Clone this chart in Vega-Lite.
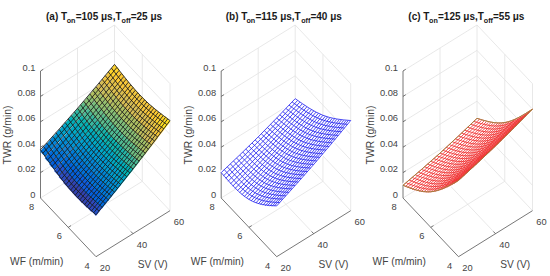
{"$schema":"https://vega.github.io/schema/vega-lite/v6.json","width":550,"height":276,"autosize":{"type":"fit","contains":"padding"},"padding":0,"background":"white","view":{"stroke":null},
"datasets":{
"box":[
{"s":20,"w":8,"z":0,"s2":60,"w2":8,"z2":0},{"s":60,"w":8,"z":0,"s2":60,"w2":4,"z2":0},
{"s":20,"w":8,"z":0.02,"s2":60,"w2":8,"z2":0.02},{"s":60,"w":8,"z":0.02,"s2":60,"w2":4,"z2":0.02},
{"s":20,"w":8,"z":0.04,"s2":60,"w2":8,"z2":0.04},{"s":60,"w":8,"z":0.04,"s2":60,"w2":4,"z2":0.04},
{"s":20,"w":8,"z":0.06,"s2":60,"w2":8,"z2":0.06},{"s":60,"w":8,"z":0.06,"s2":60,"w2":4,"z2":0.06},
{"s":20,"w":8,"z":0.08,"s2":60,"w2":8,"z2":0.08},{"s":60,"w":8,"z":0.08,"s2":60,"w2":4,"z2":0.08},
{"s":20,"w":8,"z":0.1,"s2":60,"w2":8,"z2":0.1},{"s":60,"w":8,"z":0.1,"s2":60,"w2":4,"z2":0.1},
{"s":40,"w":8,"z":0,"s2":40,"w2":8,"z2":0.1},{"s":60,"w":8,"z":0,"s2":60,"w2":8,"z2":0.1},
{"s":60,"w":6,"z":0,"s2":60,"w2":6,"z2":0.1},{"s":60,"w":4,"z":0,"s2":60,"w2":4,"z2":0.1},
{"s":40,"w":4,"z":0,"s2":40,"w2":8,"z2":0},{"s":20,"w":6,"z":0,"s2":60,"w2":6,"z2":0}],
"axes":[
{"s":20,"w":8,"z":0,"s2":20,"w2":8,"z2":0.1},{"s":20,"w":4,"z":0,"s2":20,"w2":8,"z2":0},{"s":20,"w":4,"z":0,"s2":60,"w2":4,"z2":0},
{"s":20,"w":8,"z":0.02,"s2":21.5,"w2":8,"z2":0.02},{"s":20,"w":8,"z":0.04,"s2":21.5,"w2":8,"z2":0.04},{"s":20,"w":8,"z":0.06,"s2":21.5,"w2":8,"z2":0.06},{"s":20,"w":8,"z":0.08,"s2":21.5,"w2":8,"z2":0.08},{"s":20,"w":8,"z":0.1,"s2":21.5,"w2":8,"z2":0.1},
{"s":20,"w":6,"z":0,"s2":21.5,"w2":6,"z2":0},{"s":40,"w":4,"z":0,"s2":40,"w2":4.15,"z2":0}],
"ticks":[
{"k":"z","t":"0","s":20,"w":8,"z":0},{"k":"z","t":"0.02","s":20,"w":8,"z":0.02},{"k":"z","t":"0.04","s":20,"w":8,"z":0.04},{"k":"z","t":"0.06","s":20,"w":8,"z":0.06},{"k":"z","t":"0.08","s":20,"w":8,"z":0.08},{"k":"z","t":"0.1","s":20,"w":8,"z":0.1},
{"k":"w","t":"4","s":20,"w":4,"z":0},{"k":"w","t":"6","s":20,"w":6,"z":0},{"k":"w","t":"8","s":20,"w":8,"z":0},
{"k":"s","t":"20","s":20,"w":4,"z":0},{"k":"s","t":"40","s":40,"w":4,"z":0},{"k":"s","t":"60","s":60,"w":4,"z":0}],
"titles":[
{"p":"a","n":0,"t":"(a) T"},{"p":"a","n":1,"t":"on"},{"p":"a","n":2,"t":"=105 μs,T"},{"p":"a","n":3,"t":"off"},{"p":"a","n":4,"t":"=25 μs"},
{"p":"b","n":0,"t":"(b) T"},{"p":"b","n":1,"t":"on"},{"p":"b","n":2,"t":"=115 μs,T"},{"p":"b","n":3,"t":"off"},{"p":"b","n":4,"t":"=40 μs"},
{"p":"c","n":0,"t":"(c) T"},{"p":"c","n":1,"t":"on"},{"p":"c","n":2,"t":"=125 μs,T"},{"p":"c","n":3,"t":"off"},{"p":"c","n":4,"t":"=55 μs"}],
"tiles":[
{"w":4.17,"s":21.67,"z":0.034},{"w":4.17,"s":25,"z":0.0369},{"w":4.17,"s":28.33,"z":0.0398},{"w":4.17,"s":31.67,"z":0.0428},{"w":4.17,"s":35,"z":0.0458},{"w":4.17,"s":38.33,"z":0.0489},{"w":4.17,"s":41.67,"z":0.052},{"w":4.17,"s":45,"z":0.0553},{"w":4.17,"s":48.33,"z":0.0585},{"w":4.17,"s":51.67,"z":0.0617},{"w":4.17,"s":55,"z":0.0652},{"w":4.17,"s":58.33,"z":0.0685},
{"w":4.5,"s":21.67,"z":0.0332},{"w":4.5,"s":25,"z":0.0361},{"w":4.5,"s":28.33,"z":0.0389},{"w":4.5,"s":31.67,"z":0.0419},{"w":4.5,"s":35,"z":0.0449},{"w":4.5,"s":38.33,"z":0.0479},{"w":4.5,"s":41.67,"z":0.051},{"w":4.5,"s":45,"z":0.0542},{"w":4.5,"s":48.33,"z":0.0574},{"w":4.5,"s":51.67,"z":0.0606},{"w":4.5,"s":55,"z":0.064},{"w":4.5,"s":58.33,"z":0.0673},
{"w":4.83,"s":21.67,"z":0.0327},{"w":4.83,"s":25,"z":0.0356},{"w":4.83,"s":28.33,"z":0.0383},{"w":4.83,"s":31.67,"z":0.0413},{"w":4.83,"s":35,"z":0.0442},{"w":4.83,"s":38.33,"z":0.0472},{"w":4.83,"s":41.67,"z":0.0502},{"w":4.83,"s":45,"z":0.0534},{"w":4.83,"s":48.33,"z":0.0565},{"w":4.83,"s":51.67,"z":0.0597},{"w":4.83,"s":55,"z":0.063},{"w":4.83,"s":58.33,"z":0.0663},
{"w":5.17,"s":21.67,"z":0.0325},{"w":5.17,"s":25,"z":0.0353},{"w":5.17,"s":28.33,"z":0.038},{"w":5.17,"s":31.67,"z":0.0409},{"w":5.17,"s":35,"z":0.0438},{"w":5.17,"s":38.33,"z":0.0467},{"w":5.17,"s":41.67,"z":0.0496},{"w":5.17,"s":45,"z":0.0527},{"w":5.17,"s":48.33,"z":0.0558},{"w":5.17,"s":51.67,"z":0.0589},{"w":5.17,"s":55,"z":0.0622},{"w":5.17,"s":58.33,"z":0.0654},
{"w":5.5,"s":21.67,"z":0.0324},{"w":5.5,"s":25,"z":0.0351},{"w":5.5,"s":28.33,"z":0.0378},{"w":5.5,"s":31.67,"z":0.0406},{"w":5.5,"s":35,"z":0.0434},{"w":5.5,"s":38.33,"z":0.0463},{"w":5.5,"s":41.67,"z":0.0492},{"w":5.5,"s":45,"z":0.0523},{"w":5.5,"s":48.33,"z":0.0553},{"w":5.5,"s":51.67,"z":0.0583},{"w":5.5,"s":55,"z":0.0616},{"w":5.5,"s":58.33,"z":0.0647},
{"w":5.83,"s":21.67,"z":0.0326},{"w":5.83,"s":25,"z":0.0353},{"w":5.83,"s":28.33,"z":0.0379},{"w":5.83,"s":31.67,"z":0.0407},{"w":5.83,"s":35,"z":0.0435},{"w":5.83,"s":38.33,"z":0.0462},{"w":5.83,"s":41.67,"z":0.0492},{"w":5.83,"s":45,"z":0.0522},{"w":5.83,"s":48.33,"z":0.0552},{"w":5.83,"s":51.67,"z":0.0582},{"w":5.83,"s":55,"z":0.0614},{"w":5.83,"s":58.33,"z":0.0645},
{"w":6.17,"s":21.67,"z":0.0329},{"w":6.17,"s":25,"z":0.0356},{"w":6.17,"s":28.33,"z":0.0381},{"w":6.17,"s":31.67,"z":0.0409},{"w":6.17,"s":35,"z":0.0436},{"w":6.17,"s":38.33,"z":0.0464},{"w":6.17,"s":41.67,"z":0.0492},{"w":6.17,"s":45,"z":0.0522},{"w":6.17,"s":48.33,"z":0.0551},{"w":6.17,"s":51.67,"z":0.0581},{"w":6.17,"s":55,"z":0.0612},{"w":6.17,"s":58.33,"z":0.0643},
{"w":6.5,"s":21.67,"z":0.0335},{"w":6.5,"s":25,"z":0.0361},{"w":6.5,"s":28.33,"z":0.0386},{"w":6.5,"s":31.67,"z":0.0413},{"w":6.5,"s":35,"z":0.044},{"w":6.5,"s":38.33,"z":0.0467},{"w":6.5,"s":41.67,"z":0.0496},{"w":6.5,"s":45,"z":0.0525},{"w":6.5,"s":48.33,"z":0.0554},{"w":6.5,"s":51.67,"z":0.0583},{"w":6.5,"s":55,"z":0.0614},{"w":6.5,"s":58.33,"z":0.0644},
{"w":6.83,"s":21.67,"z":0.0344},{"w":6.83,"s":25,"z":0.0369},{"w":6.83,"s":28.33,"z":0.0394},{"w":6.83,"s":31.67,"z":0.0421},{"w":6.83,"s":35,"z":0.0447},{"w":6.83,"s":38.33,"z":0.0474},{"w":6.83,"s":41.67,"z":0.0501},{"w":6.83,"s":45,"z":0.053},{"w":6.83,"s":48.33,"z":0.0558},{"w":6.83,"s":51.67,"z":0.0587},{"w":6.83,"s":55,"z":0.0618},{"w":6.83,"s":58.33,"z":0.0647},
{"w":7.17,"s":21.67,"z":0.0356},{"w":7.17,"s":25,"z":0.0381},{"w":7.17,"s":28.33,"z":0.0404},{"w":7.17,"s":31.67,"z":0.0431},{"w":7.17,"s":35,"z":0.0457},{"w":7.17,"s":38.33,"z":0.0482},{"w":7.17,"s":41.67,"z":0.051},{"w":7.17,"s":45,"z":0.0538},{"w":7.17,"s":48.33,"z":0.0566},{"w":7.17,"s":51.67,"z":0.0594},{"w":7.17,"s":55,"z":0.0624},{"w":7.17,"s":58.33,"z":0.0652},
{"w":7.5,"s":21.67,"z":0.0367},{"w":7.5,"s":25,"z":0.0392},{"w":7.5,"s":28.33,"z":0.0415},{"w":7.5,"s":31.67,"z":0.0441},{"w":7.5,"s":35,"z":0.0467},{"w":7.5,"s":38.33,"z":0.0492},{"w":7.5,"s":41.67,"z":0.0519},{"w":7.5,"s":45,"z":0.0546},{"w":7.5,"s":48.33,"z":0.0574},{"w":7.5,"s":51.67,"z":0.0602},{"w":7.5,"s":55,"z":0.0631},{"w":7.5,"s":58.33,"z":0.066},
{"w":7.83,"s":21.67,"z":0.0383},{"w":7.83,"s":25,"z":0.0407},{"w":7.83,"s":28.33,"z":0.043},{"w":7.83,"s":31.67,"z":0.0455},{"w":7.83,"s":35,"z":0.048},{"w":7.83,"s":38.33,"z":0.0505},{"w":7.83,"s":41.67,"z":0.0532},{"w":7.83,"s":45,"z":0.0559},{"w":7.83,"s":48.33,"z":0.0586},{"w":7.83,"s":51.67,"z":0.0613},{"w":7.83,"s":55,"z":0.0642},{"w":7.83,"s":58.33,"z":0.067}],
"alongSV":[
{"p":"a","w":4,"20":0.033,"40":0.051,"60":0.071},{"p":"a","w":4.17,"20":0.0326,"40":0.0505,"60":0.0703},{"p":"a","w":4.33,"20":0.0322,"40":0.0499,"60":0.0696},{"p":"a","w":4.5,"20":0.0318,"40":0.0494,"60":0.069},{"p":"a","w":4.67,"20":0.0316,"40":0.049,"60":0.0685},{"p":"a","w":4.83,"20":0.0314,"40":0.0487,"60":0.068},{"p":"a","w":5,"20":0.0313,"40":0.0484,"60":0.0675},{"p":"a","w":5.17,"20":0.0312,"40":0.0481,"60":0.0671},{"p":"a","w":5.33,"20":0.0311,"40":0.0479,"60":0.0667},{"p":"a","w":5.5,"20":0.0311,"40":0.0478,"60":0.0664},{"p":"a","w":5.67,"20":0.0312,"40":0.0477,"60":0.0663},{"p":"a","w":5.83,"20":0.0313,"40":0.0477,"60":0.0661},{"p":"a","w":6,"20":0.0315,"40":0.0478,"60":0.066},{"p":"a","w":6.17,"20":0.0317,"40":0.0478,"60":0.0659},{"p":"a","w":6.33,"20":0.032,"40":0.0479,"60":0.0659},{"p":"a","w":6.5,"20":0.0323,"40":0.0481,"60":0.066},{"p":"a","w":6.67,"20":0.0327,"40":0.0484,"60":0.0661},{"p":"a","w":6.83,"20":0.0332,"40":0.0487,"60":0.0663},{"p":"a","w":7,"20":0.0338,"40":0.0491,"60":0.0665},{"p":"a","w":7.17,"20":0.0344,"40":0.0496,"60":0.0668},{"p":"a","w":7.33,"20":0.035,"40":0.0501,"60":0.0672},{"p":"a","w":7.5,"20":0.0356,"40":0.0507,"60":0.0675},{"p":"a","w":7.67,"20":0.0364,"40":0.0514,"60":0.068},{"p":"a","w":7.83,"20":0.0372,"40":0.0518,"60":0.0685},{"p":"a","w":8,"20":0.038,"40":0.0525,"60":0.069},
{"p":"b","w":4,"20":0.04,"40":0.0545,"60":0.071},{"p":"b","w":4.17,"20":0.0379,"40":0.0525,"60":0.0691},{"p":"b","w":4.33,"20":0.0359,"40":0.0506,"60":0.0672},{"p":"b","w":4.5,"20":0.034,"40":0.0487,"60":0.0654},{"p":"b","w":4.67,"20":0.0323,"40":0.0469,"60":0.0637},{"p":"b","w":4.83,"20":0.0305,"40":0.0453,"60":0.062},{"p":"b","w":5,"20":0.029,"40":0.0437,"60":0.0604},{"p":"b","w":5.17,"20":0.0276,"40":0.0422,"60":0.0588},{"p":"b","w":5.33,"20":0.0262,"40":0.0407,"60":0.0573},{"p":"b","w":5.5,"20":0.025,"40":0.0394,"60":0.0559},{"p":"b","w":5.67,"20":0.0239,"40":0.0382,"60":0.0545},{"p":"b","w":5.83,"20":0.0229,"40":0.0371,"60":0.0532},{"p":"b","w":6,"20":0.022,"40":0.036,"60":0.052},{"p":"b","w":6.17,"20":0.0213,"40":0.035,"60":0.0508},{"p":"b","w":6.33,"20":0.0205,"40":0.0341,"60":0.0497},{"p":"b","w":6.5,"20":0.02,"40":0.0333,"60":0.0487},{"p":"b","w":6.67,"20":0.0196,"40":0.0326,"60":0.0477},{"p":"b","w":6.83,"20":0.0192,"40":0.0319,"60":0.0468},{"p":"b","w":7,"20":0.019,"40":0.0314,"60":0.0459},{"p":"b","w":7.17,"20":0.0189,"40":0.031,"60":0.045},{"p":"b","w":7.33,"20":0.0189,"40":0.0306,"60":0.0443},{"p":"b","w":7.5,"20":0.019,"40":0.0304,"60":0.0436},{"p":"b","w":7.67,"20":0.0193,"40":0.0301,"60":0.043},{"p":"b","w":7.83,"20":0.0195,"40":0.03,"60":0.0425},{"p":"b","w":8,"20":0.02,"40":0.03,"60":0.042},
{"p":"c","w":4,"20":0.06,"40":0.069,"60":0.08},{"p":"c","w":4.17,"20":0.0568,"40":0.0657,"60":0.0767},{"p":"c","w":4.33,"20":0.0537,"40":0.0626,"60":0.0734},{"p":"c","w":4.5,"20":0.0507,"40":0.0594,"60":0.0702},{"p":"c","w":4.67,"20":0.0478,"40":0.0565,"60":0.0672},{"p":"c","w":4.83,"20":0.045,"40":0.0536,"60":0.0643},{"p":"c","w":5,"20":0.0422,"40":0.0508,"60":0.0613},{"p":"c","w":5.17,"20":0.0396,"40":0.0481,"60":0.0586},{"p":"c","w":5.33,"20":0.0371,"40":0.0455,"60":0.056},{"p":"c","w":5.5,"20":0.0347,"40":0.043,"60":0.0533},{"p":"c","w":5.67,"20":0.0324,"40":0.0406,"60":0.0509},{"p":"c","w":5.83,"20":0.0301,"40":0.0383,"60":0.0485},{"p":"c","w":6,"20":0.028,"40":0.0361,"60":0.0463},{"p":"c","w":6.17,"20":0.0259,"40":0.0339,"60":0.044},{"p":"c","w":6.33,"20":0.024,"40":0.032,"60":0.042},{"p":"c","w":6.5,"20":0.0222,"40":0.03,"60":0.04},{"p":"c","w":6.67,"20":0.0205,"40":0.0283,"60":0.0381},{"p":"c","w":6.83,"20":0.0188,"40":0.0265,"60":0.0363},{"p":"c","w":7,"20":0.0172,"40":0.0249,"60":0.0346},{"p":"c","w":7.17,"20":0.0158,"40":0.0234,"60":0.033},{"p":"c","w":7.33,"20":0.0144,"40":0.0219,"60":0.0315},{"p":"c","w":7.5,"20":0.0132,"40":0.0206,"60":0.0301},{"p":"c","w":7.67,"20":0.0121,"40":0.0194,"60":0.0288},{"p":"c","w":7.83,"20":0.011,"40":0.0183,"60":0.0276},{"p":"c","w":8,"20":0.01,"40":0.0172,"60":0.0265}],
"alongWF":[
{"p":"a","s":20,"4":0.033,"6":0.0315,"8":0.038},{"p":"a","s":21.67,"4":0.0344,"6":0.0328,"8":0.0391},{"p":"a","s":23.33,"4":0.0359,"6":0.0341,"8":0.0403},{"p":"a","s":25,"4":0.0373,"6":0.0354,"8":0.0415},{"p":"a","s":26.67,"4":0.0388,"6":0.0367,"8":0.0426},{"p":"a","s":28.33,"4":0.0403,"6":0.038,"8":0.0439},{"p":"a","s":30,"4":0.0418,"6":0.0394,"8":0.0451},{"p":"a","s":31.67,"4":0.0433,"6":0.0407,"8":0.0462},{"p":"a","s":33.33,"4":0.0448,"6":0.0421,"8":0.0474},{"p":"a","s":35,"4":0.0463,"6":0.0435,"8":0.0487},{"p":"a","s":36.67,"4":0.0479,"6":0.0449,"8":0.0499},{"p":"a","s":38.33,"4":0.0494,"6":0.0463,"8":0.0512},{"p":"a","s":40,"4":0.051,"6":0.0478,"8":0.0525},{"p":"a","s":41.67,"4":0.0526,"6":0.0492,"8":0.0538},{"p":"a","s":43.33,"4":0.0542,"6":0.0506,"8":0.0551},{"p":"a","s":45,"4":0.0558,"6":0.0521,"8":0.0564},{"p":"a","s":46.67,"4":0.0574,"6":0.0536,"8":0.0578},{"p":"a","s":48.33,"4":0.0591,"6":0.0551,"8":0.0591},{"p":"a","s":50,"4":0.0608,"6":0.0566,"8":0.0605},{"p":"a","s":51.67,"4":0.0624,"6":0.0581,"8":0.0619},{"p":"a","s":53.33,"4":0.0641,"6":0.0597,"8":0.0633},{"p":"a","s":55,"4":0.0658,"6":0.0612,"8":0.0647},{"p":"a","s":56.67,"4":0.0675,"6":0.0628,"8":0.0661},{"p":"a","s":58.33,"4":0.0693,"6":0.0644,"8":0.0676},{"p":"a","s":60,"4":0.071,"6":0.066,"8":0.069},
{"p":"b","s":20,"4":0.04,"6":0.022,"8":0.02},{"p":"b","s":21.67,"4":0.0411,"6":0.0231,"8":0.0208},{"p":"b","s":23.33,"4":0.0423,"6":0.0242,"8":0.0215},{"p":"b","s":25,"4":0.0434,"6":0.0253,"8":0.0223},{"p":"b","s":26.67,"4":0.0446,"6":0.0264,"8":0.0231},{"p":"b","s":28.33,"4":0.0458,"6":0.0276,"8":0.0239},{"p":"b","s":30,"4":0.047,"6":0.0288,"8":0.0248},{"p":"b","s":31.67,"4":0.0482,"6":0.0299,"8":0.0256},{"p":"b","s":33.33,"4":0.0494,"6":0.0311,"8":0.0264},{"p":"b","s":35,"4":0.0507,"6":0.0324,"8":0.0273},{"p":"b","s":36.67,"4":0.0519,"6":0.0336,"8":0.0282},{"p":"b","s":38.33,"4":0.0532,"6":0.0348,"8":0.0291},{"p":"b","s":40,"4":0.0545,"6":0.036,"8":0.03},{"p":"b","s":41.67,"4":0.0558,"6":0.0373,"8":0.0309},{"p":"b","s":43.33,"4":0.0571,"6":0.0385,"8":0.0318},{"p":"b","s":45,"4":0.0584,"6":0.0398,"8":0.0328},{"p":"b","s":46.67,"4":0.0598,"6":0.0411,"8":0.0338},{"p":"b","s":48.33,"4":0.0611,"6":0.0424,"8":0.0347},{"p":"b","s":50,"4":0.0625,"6":0.0438,"8":0.0358},{"p":"b","s":51.67,"4":0.0639,"6":0.0451,"8":0.0368},{"p":"b","s":53.33,"4":0.0653,"6":0.0464,"8":0.0378},{"p":"b","s":55,"4":0.0667,"6":0.0478,"8":0.0388},{"p":"b","s":56.67,"4":0.0681,"6":0.0492,"8":0.0399},{"p":"b","s":58.33,"4":0.0695,"6":0.0506,"8":0.0409},{"p":"b","s":60,"4":0.071,"6":0.052,"8":0.042},
{"p":"c","s":20,"4":0.06,"6":0.028,"8":0.01},{"p":"c","s":21.67,"4":0.0607,"6":0.0286,"8":0.0105},{"p":"c","s":23.33,"4":0.0614,"6":0.0292,"8":0.0111},{"p":"c","s":25,"4":0.0621,"6":0.0298,"8":0.0116},{"p":"c","s":26.67,"4":0.0628,"6":0.0305,"8":0.0122},{"p":"c","s":28.33,"4":0.0635,"6":0.0312,"8":0.0128},{"p":"c","s":30,"4":0.0643,"6":0.0318,"8":0.0134},{"p":"c","s":31.67,"4":0.065,"6":0.0325,"8":0.014},{"p":"c","s":33.33,"4":0.0658,"6":0.0332,"8":0.0146},{"p":"c","s":35,"4":0.0666,"6":0.0339,"8":0.0153},{"p":"c","s":36.67,"4":0.0674,"6":0.0347,"8":0.0159},{"p":"c","s":38.33,"4":0.0682,"6":0.0354,"8":0.0166},{"p":"c","s":40,"4":0.069,"6":0.0362,"8":0.0172},{"p":"c","s":41.67,"4":0.0698,"6":0.0369,"8":0.0179},{"p":"c","s":43.33,"4":0.0707,"6":0.0377,"8":0.0187},{"p":"c","s":45,"4":0.0716,"6":0.0385,"8":0.0194},{"p":"c","s":46.67,"4":0.0724,"6":0.0393,"8":0.0201},{"p":"c","s":48.33,"4":0.0733,"6":0.0401,"8":0.0209},{"p":"c","s":50,"4":0.0743,"6":0.041,"8":0.0216},{"p":"c","s":51.67,"4":0.0752,"6":0.0418,"8":0.0224},{"p":"c","s":53.33,"4":0.0761,"6":0.0427,"8":0.0232},{"p":"c","s":55,"4":0.0771,"6":0.0436,"8":0.024},{"p":"c","s":56.67,"4":0.078,"6":0.0445,"8":0.0248},{"p":"c","s":58.33,"4":0.079,"6":0.0454,"8":0.0256},{"p":"c","s":60,"4":0.08,"6":0.0463,"8":0.0265}]
},
"layer":[
{"data":{"name":"box"},"transform":[{"calculate":"['a','b','c']","as":"p"},{"flatten":["p"]},
{"calculate":"96+{a:0,b:180.7,c:362.5}[datum.p]+(datum.s-20)*1.85-(datum.w-4)*13.875","as":"px"},{"calculate":"256.7-(datum.s-20)*1.15-(datum.w-4)*14.675-datum.z*1270","as":"py"},
{"calculate":"96+{a:0,b:180.7,c:362.5}[datum.p]+(datum.s2-20)*1.85-(datum.w2-4)*13.875","as":"px2"},{"calculate":"256.7-(datum.s2-20)*1.15-(datum.w2-4)*14.675-datum.z2*1270","as":"py2"}],
"mark":{"type":"rule","stroke":"#e2e2e2","strokeWidth":0.8},
"encoding":{"x":{"field":"px","type":"quantitative","scale":{"domain":[0,550],"nice":false,"zero":false},"axis":null},"y":{"field":"py","type":"quantitative","scale":{"domain":[0,276],"range":[0,276],"nice":false,"zero":false},"axis":null},"x2":{"field":"px2"},"y2":{"field":"py2"}}},
{"data":{"name":"axes"},"transform":[{"calculate":"['a','b','c']","as":"p"},{"flatten":["p"]},
{"calculate":"96+{a:0,b:180.7,c:362.5}[datum.p]+(datum.s-20)*1.85-(datum.w-4)*13.875","as":"px"},{"calculate":"256.7-(datum.s-20)*1.15-(datum.w-4)*14.675-datum.z*1270","as":"py"},
{"calculate":"96+{a:0,b:180.7,c:362.5}[datum.p]+(datum.s2-20)*1.85-(datum.w2-4)*13.875","as":"px2"},{"calculate":"256.7-(datum.s2-20)*1.15-(datum.w2-4)*14.675-datum.z2*1270","as":"py2"}],
"mark":{"type":"rule","stroke":"#555555","strokeWidth":0.8},
"encoding":{"x":{"field":"px","type":"quantitative","axis":null},"y":{"field":"py","type":"quantitative","axis":null},"x2":{"field":"px2"},"y2":{"field":"py2"}}},
{"data":{"name":"tiles"},"transform":[{"calculate":"'a'","as":"p"},
{"calculate":"96+(datum.s-20)*1.85-(datum.w-4)*13.875","as":"px"},{"calculate":"256.7-(datum.s-20)*1.15-(datum.w-4)*14.675-datum.z*1270","as":"py"}],
"mark":{"type":"point","filled":true,"opacity":1,"strokeWidth":0,"size":4,"shape":"M0.8,-6.8L5.8,-1.5L-0.8,6.8L-5.8,1.5Z"},
"encoding":{"x":{"field":"px","type":"quantitative","axis":null},"y":{"field":"py","type":"quantitative","axis":null},
"fill":{"field":"z","type":"quantitative","legend":null,"scale":{"domain":[0.03,0.0351,0.0403,0.0454,0.0505,0.0556,0.0608,0.0659,0.071],"range":["#352a87","#0f5cdd","#1481d6","#06a4ca","#2eb7a4","#87bf77","#d1bb59","#fec832","#f9fb0e"]}}}},
{"data":{"name":"alongSV"},"transform":[{"filter":"datum.p!='a'"},{"fold":["20","40","60"],"as":["sv","z"]},{"calculate":"toNumber(datum.sv)","as":"s"},
{"calculate":"96+{a:0,b:180.7,c:362.5}[datum.p]+(datum.s-20)*1.85-(datum.w-4)*13.875","as":"px"},{"calculate":"256.7-(datum.s-20)*1.15-(datum.w-4)*14.675-datum.z*1270","as":"py"}],
"mark":{"type":"line","stroke":"white","strokeWidth":3.6,"interpolate":"natural"},
"encoding":{"x":{"field":"px","type":"quantitative","axis":null},"y":{"field":"py","type":"quantitative","axis":null},"detail":[{"field":"p"},{"field":"w"}]}},
{"data":{"name":"alongSV"},"transform":[{"fold":["20","40","60"],"as":["sv","z"]},{"calculate":"toNumber(datum.sv)","as":"s"},
{"calculate":"96+{a:0,b:180.7,c:362.5}[datum.p]+(datum.s-20)*1.85-(datum.w-4)*13.875","as":"px"},{"calculate":"256.7-(datum.s-20)*1.15-(datum.w-4)*14.675-datum.z*1270","as":"py"}],
"mark":{"type":"line","strokeWidth":0.85,"interpolate":"natural"},
"encoding":{"x":{"field":"px","type":"quantitative","axis":null},"y":{"field":"py","type":"quantitative","axis":null},"detail":{"field":"w"},"stroke":{"field":"p","type":"nominal","legend":null,"scale":{"domain":["a","b","c"],"range":["#1a1a1a","#2a2af0","#f03030"]}}}},
{"data":{"name":"alongWF"},"transform":[{"fold":["4","6","8"],"as":["wf","z"]},{"calculate":"toNumber(datum.wf)","as":"w"},
{"calculate":"96+{a:0,b:180.7,c:362.5}[datum.p]+(datum.s-20)*1.85-(datum.w-4)*13.875","as":"px"},{"calculate":"256.7-(datum.s-20)*1.15-(datum.w-4)*14.675-datum.z*1270","as":"py"}],
"mark":{"type":"line","strokeWidth":0.85,"interpolate":"natural"},
"encoding":{"x":{"field":"px","type":"quantitative","axis":null},"y":{"field":"py","type":"quantitative","axis":null},"detail":{"field":"s"},"stroke":{"field":"p","type":"nominal","legend":null}}},
{"data":{"name":"alongSV"},"transform":[{"filter":"datum.p=='c'&&(datum.w==4||datum.w==8)"},{"fold":["20","40","60"],"as":["sv","z"]},{"calculate":"toNumber(datum.sv)","as":"s"},
{"calculate":"96+362.5+(datum.s-20)*1.85-(datum.w-4)*13.875","as":"px"},{"calculate":"256.7-(datum.s-20)*1.15-(datum.w-4)*14.675-datum.z*1270","as":"py"}],
"mark":{"type":"line","stroke":"#8f8a3a","strokeWidth":0.8,"interpolate":"natural"},
"encoding":{"x":{"field":"px","type":"quantitative","axis":null},"y":{"field":"py","type":"quantitative","axis":null},"detail":{"field":"w"}}},
{"data":{"name":"alongWF"},"transform":[{"filter":"datum.p=='c'&&(datum.s==20||datum.s==60)"},{"fold":["4","6","8"],"as":["wf","z"]},{"calculate":"toNumber(datum.wf)","as":"w"},
{"calculate":"96+362.5+(datum.s-20)*1.85-(datum.w-4)*13.875","as":"px"},{"calculate":"256.7-(datum.s-20)*1.15-(datum.w-4)*14.675-datum.z*1270","as":"py"}],
"mark":{"type":"line","stroke":"#8f8a3a","strokeWidth":0.8,"interpolate":"natural"},
"encoding":{"x":{"field":"px","type":"quantitative","axis":null},"y":{"field":"py","type":"quantitative","axis":null},"detail":{"field":"s"}}},
{"data":{"name":"ticks"},"transform":[{"filter":"datum.k=='z'"},{"calculate":"['a','b','c']","as":"p"},{"flatten":["p"]},
{"calculate":"96+{a:0,b:180.7,c:362.5}[datum.p]+(datum.s-20)*1.85-(datum.w-4)*13.875","as":"px"},{"calculate":"256.7-(datum.s-20)*1.15-(datum.w-4)*14.675-datum.z*1270","as":"py"}],
"mark":{"type":"text","font":"Liberation Sans","fontSize":9.3,"fill":"#444444","align":"right","baseline":"middle","dx":-5,"dy":-3.5},
"encoding":{"x":{"field":"px","type":"quantitative","axis":null},"y":{"field":"py","type":"quantitative","axis":null},"text":{"field":"t"}}},
{"data":{"name":"ticks"},"transform":[{"filter":"datum.k=='w'"},{"calculate":"['a','b','c']","as":"p"},{"flatten":["p"]},
{"calculate":"96+{a:0,b:180.7,c:362.5}[datum.p]+(datum.s-20)*1.85-(datum.w-4)*13.875","as":"px"},{"calculate":"256.7-(datum.s-20)*1.15-(datum.w-4)*14.675-datum.z*1270","as":"py"}],
"mark":{"type":"text","font":"Liberation Sans","fontSize":9.3,"fill":"#444444","align":"center","baseline":"middle","dx":-9,"dy":9},
"encoding":{"x":{"field":"px","type":"quantitative","axis":null},"y":{"field":"py","type":"quantitative","axis":null},"text":{"field":"t"}}},
{"data":{"name":"ticks"},"transform":[{"filter":"datum.k=='s'"},{"calculate":"['a','b','c']","as":"p"},{"flatten":["p"]},
{"calculate":"96+{a:0,b:180.7,c:362.5}[datum.p]+(datum.s-20)*1.85-(datum.w-4)*13.875","as":"px"},{"calculate":"256.7-(datum.s-20)*1.15-(datum.w-4)*14.675-datum.z*1270","as":"py"}],
"mark":{"type":"text","font":"Liberation Sans","fontSize":9.3,"fill":"#444444","align":"center","baseline":"middle","dx":9,"dy":11},
"encoding":{"x":{"field":"px","type":"quantitative","axis":null},"y":{"field":"py","type":"quantitative","axis":null},"text":{"field":"t"}}},
{"data":{"values":[{"p":"a","t":"WF (m/min)"},{"p":"b","t":"WF (m/min)"},{"p":"c","t":"WF (m/min)"}]},"transform":[{"calculate":"68.2+{a:0,b:180.7,c:362.5}[datum.p]","as":"px"},{"calculate":"227.3","as":"py"}],
"mark":{"type":"text","font":"Liberation Sans","fontSize":10.2,"fill":"#444444","align":"center","baseline":"middle","dx":-31.5,"dy":34.4},
"encoding":{"x":{"field":"px","type":"quantitative","axis":null},"y":{"field":"py","type":"quantitative","axis":null},"text":{"field":"t"}}},
{"data":{"values":[{"p":"a","t":"SV (V)"},{"p":"b","t":"SV (V)"},{"p":"c","t":"SV (V)"}]},"transform":[{"calculate":"133+{a:0,b:180.7,c:362.5}[datum.p]","as":"px"},{"calculate":"233.7","as":"py"}],
"mark":{"type":"text","font":"Liberation Sans","fontSize":10.2,"fill":"#444444","align":"center","baseline":"middle","dx":19.7,"dy":31.3},
"encoding":{"x":{"field":"px","type":"quantitative","axis":null},"y":{"field":"py","type":"quantitative","axis":null},"text":{"field":"t"}}},
{"data":{"values":[{"p":"a","t":"TWR (g/min)"},{"p":"b","t":"TWR (g/min)"},{"p":"c","t":"TWR (g/min)"}]},"transform":[{"calculate":"8.3+{a:0,b:180.7,c:362.5}[datum.p]","as":"px"},{"calculate":"135","as":"py"}],
"mark":{"type":"text","font":"Liberation Sans","fontSize":10.4,"fill":"#444444","align":"center","baseline":"middle","angle":270},
"encoding":{"x":{"field":"px","type":"quantitative","axis":null},"y":{"field":"py","type":"quantitative","axis":null},"text":{"field":"t"}}},
{"data":{"name":"titles"},"transform":[{"filter":"datum.n%2==0"},{"calculate":"{a:46,b:225.7,c:408.3}[datum.p]+[0,20.7,29.7,75.5,84.7][datum.n]","as":"px"},{"calculate":"19.5","as":"py"}],
"mark":{"type":"text","font":"Liberation Sans","fontWeight":"bold","fontSize":10,"fill":"#1a1a1a","align":"left","baseline":"alphabetic"},
"encoding":{"x":{"field":"px","type":"quantitative","axis":null},"y":{"field":"py","type":"quantitative","axis":null},"text":{"field":"t"}}},
{"data":{"name":"titles"},"transform":[{"filter":"datum.n%2==1"},{"calculate":"{a:46,b:225.7,c:408.3}[datum.p]+[0,20.7,29.7,75.5,84.7][datum.n]","as":"px"},{"calculate":"22.5","as":"py"}],
"mark":{"type":"text","font":"Liberation Sans","fontWeight":"bold","fontSize":7.2,"fill":"#1a1a1a","align":"left","baseline":"alphabetic"},
"encoding":{"x":{"field":"px","type":"quantitative","axis":null},"y":{"field":"py","type":"quantitative","axis":null},"text":{"field":"t"}}}
]}
